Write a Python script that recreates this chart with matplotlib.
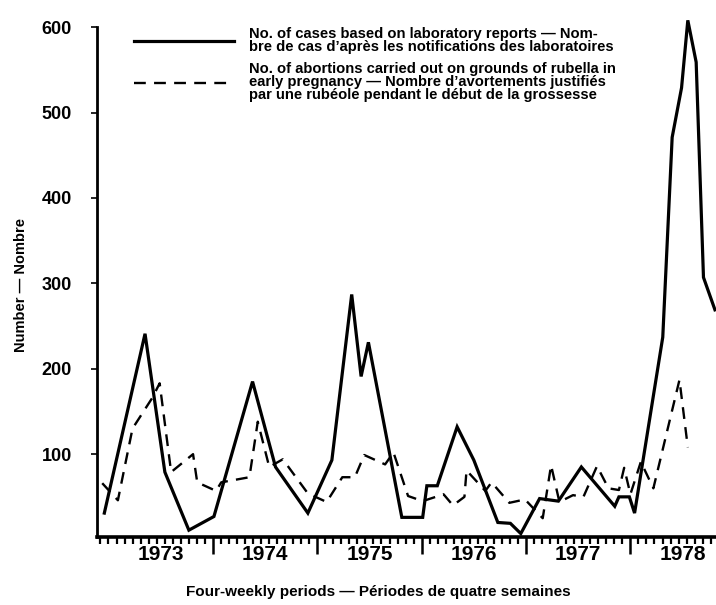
import matplotlib
matplotlib.use('Agg')
import matplotlib.pyplot as plt
import numpy as np

plt.rcParams['font.family'] = ['Liberation Sans', 'DejaVu Sans']
plt.rcParams['font.weight'] = 'bold'

# laboratory reports (solid line): decimal year, count
lab_x = [1972.96, 1973.35, 1973.54, 1973.77, 1974.01, 1974.38, 1974.60, 1974.91,
         1975.14, 1975.33, 1975.42, 1975.49, 1975.81, 1976.01, 1976.05, 1976.15,
         1976.34, 1976.50, 1976.73, 1976.85, 1976.95, 1977.13, 1977.31, 1977.53,
         1977.85, 1977.89, 1977.99, 1978.04, 1978.31, 1978.40, 1978.49, 1978.55,
         1978.63, 1978.70, 1978.81]
lab_y = [31, 241, 79, 11, 27, 185, 85, 31,
         93, 287, 191, 231, 26, 26, 63, 63,
         132, 93, 20, 19, 7, 48, 45, 85,
         39, 50, 50, 31, 237, 471, 529, 608,
         559, 307, 269]

# abortions on grounds of rubella (dashed line)
abo_x = [1972.94, 1973.09, 1973.23, 1973.42, 1973.49, 1973.60, 1973.81, 1973.85,
         1974.03, 1974.08, 1974.35, 1974.43, 1974.54, 1974.67, 1974.91, 1975.09,
         1975.24, 1975.36, 1975.45, 1975.65, 1975.73, 1975.87, 1976.01, 1976.21,
         1976.30, 1976.41, 1976.43, 1976.61, 1976.67, 1976.84, 1976.99, 1977.16,
         1977.24, 1977.32, 1977.45, 1977.55, 1977.68, 1977.79, 1977.89, 1977.94,
         1978.00, 1978.10, 1978.22, 1978.47, 1978.55]
abo_y = [66, 46, 130, 166, 183, 79, 100, 67,
         57, 67, 73, 138, 85, 94, 54, 44,
         73, 73, 99, 88, 102, 51, 45, 53,
         40, 50, 81, 57, 67, 43, 47, 25,
         87, 44, 52, 50, 86, 60, 58, 84,
         53, 91, 60, 187, 108]

years = [1973, 1974, 1975, 1976, 1977, 1978]
yticks = [100, 200, 300, 400, 500, 600]

lab_label = ("No. of cases based on laboratory reports \u2014 Nom-\n"
             "bre de cas d\u2019apr\u00e8s les notifications des laboratoires")
abo_label = ("No. of abortions carried out on grounds of rubella in\n"
             "early pregnancy \u2014 Nombre d\u2019avortements justifi\u00e9s\n"
             "par une rub\u00e9ole pendant le d\u00e9but de la grossesse")

fig = plt.figure(figsize=(7.16, 6.05), dpi=100)
ax = fig.add_axes([0.1355, 0.1124, 0.8645, 0.878])

ax.plot(lab_x, lab_y, color='black', lw=2.3, ls='solid', label=lab_label,
        solid_joinstyle='miter')
ax.plot(abo_x, abo_y, color='black', lw=1.7, ls=(0, (5, 3.5)), label=abo_label)

ax.set_xlim(1972.89, 1978.82)
ax.set_ylim(3, 625)

for s in ['top', 'right']:
    ax.spines[s].set_visible(False)
ax.spines['left'].set_bounds(3, 600)
ax.spines['left'].set_linewidth(2.0)
ax.spines['bottom'].set_linewidth(2.6)

ax.set_yticks(yticks)
ax.set_yticklabels([str(v) for v in yticks], fontsize=13, fontweight='bold')
ax.tick_params(axis='y', length=4, width=1.2, pad=14)

# year boundaries as long ticks, four-weekly periods as short ones
ax.set_xticks(years[1:])
ax.set_xticklabels([])
ax.set_xticks(np.arange(1973 - 1 / 13.0, 1978.82, 1 / 13.0), minor=True)
ax.tick_params(axis='x', which='major', length=12, width=1.8, direction='out')
ax.tick_params(axis='x', which='minor', length=5, width=1.6, direction='out')

for yr in years:
    ax.text(yr + 0.5, -0.016, str(yr), transform=ax.get_xaxis_transform(),
            ha='center', va='top', fontsize=15, fontweight='bold',
            fontstretch='condensed')

ax.set_xlabel('Four-weekly periods \u2014 P\u00e9riodes de quatre semaines',
              fontsize=11, fontweight='bold')
ax.xaxis.set_label_coords(0.455, -0.09)
ax.set_ylabel('Number \u2014 Nombre', fontsize=10.5, fontweight='bold')
ax.yaxis.set_label_coords(-0.112, 0.475)

leg = ax.legend(loc='upper left', bbox_to_anchor=(0.038, 0.985), frameon=False,
                handlelength=6.8, handletextpad=1.0, labelspacing=0.55,
                prop={'size': 10.6, 'weight': 'bold'})
for t in leg.get_texts():
    t.set_linespacing(0.92)

fig.savefig('out.png', dpi=100)
